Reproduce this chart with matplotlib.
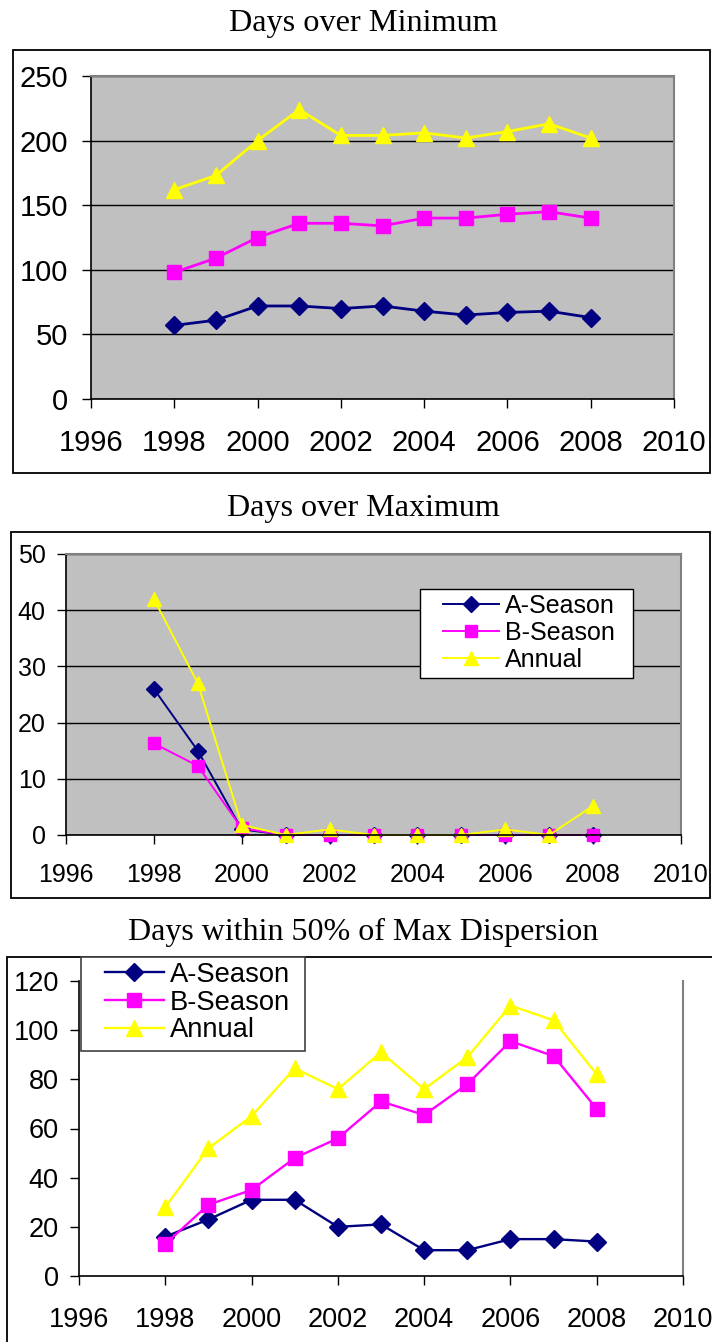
import matplotlib
matplotlib.use('Agg')
import matplotlib.pyplot as plt
from matplotlib.patches import Rectangle

# 年份与三组序列数据
years = [1998, 1999, 2000, 2001, 2002, 2003, 2004, 2005, 2006, 2007, 2008]
labels = ['A-Season', 'B-Season', 'Annual']
x_ticks = [1996, 1998, 2000, 2002, 2004, 2006, 2008, 2010]

# Days over Minimum
min_a = [57, 61, 72, 72, 70, 72, 68, 65, 67, 68, 63]
min_b = [98, 109, 125, 136, 136, 134, 140, 140, 143, 145, 140]
min_annual = [162, 173, 200, 224, 204, 204, 206, 202, 207, 213, 202]

# Days over Maximum
max_a = [26, 15, 1, 0, 0, 0, 0, 0, 0, 0, 0]
max_b = [16.3, 12.3, 1.2, 0, 0, 0, 0, 0, 0, 0, 0]
max_annual = [42, 27, 1.8, 0, 1, 0, 0, 0, 1, 0, 5.2]

# Days within 50% of Max Dispersion
disp_a = [16, 23, 31, 31, 20, 21, 10.5, 10.5, 15, 15, 14]
disp_b = [13, 29, 35, 48, 56, 71, 65.5, 78, 95.5, 89.5, 68]
disp_annual = [28, 52, 65, 84.5, 76, 91, 76, 89, 110, 104, 82]

colors = ['#000080', '#FF00FF', '#FFFF00']
markers = ['D', 's', '^']
W, H = 712, 1342

plt.rcParams['font.family'] = ['Liberation Sans', 'DejaVu Sans']
fig = plt.figure(figsize=(W / 100, H / 100), dpi=100)


def box(x0, y0, x1, y1, fill=False, ec='black', lw=1.3):
    # 矩形框（像素坐标转为figure坐标）
    r = Rectangle((x0 / W, 1 - y1 / H), (x1 - x0) / W, (y1 - y0) / H,
                  transform=fig.transFigure, fill=fill, facecolor='white',
                  edgecolor=ec, linewidth=lw, clip_on=False, zorder=2)
    fig.patches.append(r)


def make_axes(x0, y0, x1, y1):
    return fig.add_axes([x0 / W, 1 - y1 / H, (x1 - x0) / W, (y1 - y0) / H])


def style(ax, ymax, ystep, fs, gray=True):
    ax.set_xlim(1996, 2010)
    ax.set_ylim(0, ymax)
    ax.set_xticks(x_ticks)
    ax.set_yticks(range(0, ymax + 1, ystep))
    ax.tick_params(axis='x', direction='out', length=6.5, width=1, pad=15, labelsize=fs)
    ax.tick_params(axis='y', direction='out', length=6.5, width=1, pad=8, labelsize=fs)
    ax.spines['left'].set_color('black')
    ax.spines['bottom'].set_color('black')
    ax.spines['left'].set_linewidth(1.2)
    ax.spines['bottom'].set_linewidth(1.2)
    ax.spines['right'].set_color('#808080')
    ax.spines['right'].set_linewidth(1.5)
    if gray:
        ax.set_facecolor('#C0C0C0')
        ax.spines['top'].set_color('#808080')
        ax.spines['top'].set_linewidth(1.5)
        ax.grid(axis='y', color='black', linewidth=1)
        ax.set_axisbelow(True)
    else:
        ax.spines['top'].set_visible(False)


def legend_at(ax, x, y, fs, hl, hp, ls):
    # 无边框图例，左上角放在像素位置(x, y)
    h, l = ax.get_legend_handles_labels()
    return fig.legend(h, l, loc='upper left', bbox_to_anchor=(x / W, 1 - y / H),
                      bbox_transform=fig.transFigure, frameon=False, fontsize=fs,
                      borderpad=0, borderaxespad=0, handlelength=hl,
                      handletextpad=hp, labelspacing=ls)


# 图1：Days over Minimum
box(13, 50, 710, 473)
fig.text(363 / W, 1 - 24 / H, 'Days over Minimum', ha='center', va='center',
         family='Liberation Serif', fontsize=23.2)
ax1 = make_axes(91, 76, 674, 399)
for y, c, m, ms in zip([min_a, min_b, min_annual], colors, markers, [9.5, 10, 11]):
    ax1.plot(years, y, color=c, marker=m, markersize=ms, linewidth=2, clip_on=False)
style(ax1, 250, 50, 21)
ax1.tick_params(axis='y', pad=10)

# 图2：Days over Maximum
box(11, 532, 710, 898)
fig.text(363 / W, 1 - 508 / H, 'Days over Maximum', ha='center', va='center',
         family='Liberation Serif', fontsize=23.1)
ax2 = make_axes(66, 554, 681, 835)
for y, c, m, ms, lab in zip([max_a, max_b, max_annual], colors, markers, [8, 9, 10], labels):
    ax2.plot(years, y, color=c, marker=m, markersize=ms, linewidth=1.4, clip_on=False, label=lab)
style(ax2, 50, 10, 18)
ax2.tick_params(axis='x', pad=14)
box(420, 589, 633, 678, fill=True, lw=1)
legend_at(ax2, 443, 594, 18, 2.24, 0.25, 0.12)

# 图3：Days within 50% of Max Dispersion
box(7, 957, 716, 1350)
fig.text(363 / W, 1 - 932 / H, 'Days within 50% of Max Dispersion', ha='center', va='center',
         family='Liberation Serif', fontsize=23)
ax3 = make_axes(79, 981, 683, 1276)
for y, c, m, ms, lab in zip([disp_a, disp_b, disp_annual], colors, markers, [9, 10, 11], labels):
    ax3.plot(years, y, color=c, marker=m, markersize=ms, linewidth=1.7, clip_on=False, label=lab)
style(ax3, 120, 20, 19.5, gray=False)
ax3.tick_params(axis='x', pad=16)
box(81, 957, 305, 1051, fill=True, ec='#404040', lw=1.2)
legend_at(ax3, 105, 962, 19.7, 2.15, 0.22, 0.06)

fig.savefig('out.png', dpi=100)
